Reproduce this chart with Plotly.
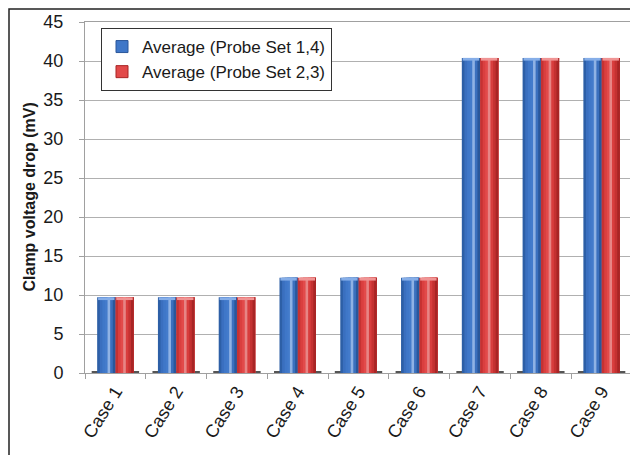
import plotly.graph_objects as go

categories = ["Case 1", "Case 2", "Case 3", "Case 4", "Case 5", "Case 6", "Case 7", "Case 8", "Case 9"]
probe_14 = [9.7, 9.7, 9.7, 12.2, 12.2, 12.2, 40.4, 40.4, 40.4]
probe_23 = [9.7, 9.7, 9.7, 12.2, 12.2, 12.2, 40.4, 40.4, 40.4]
series_names = ["Average (Probe Set 1,4)", "Average (Probe Set 2,3)"]
y_ticks = [0, 5, 10, 15, 20, 25, 30, 35, 40, 45]

# cylinder-like shading strips (left -> right)
blue_strips = ["#2d5fa6", "#3a6fbf", "#3f77c8", "#437bcb", "#8fb2e4", "#3b70be", "#2a579a"]
red_strips = ["#c53232", "#da3f3f", "#e24a4a", "#e78585", "#d83d3d", "#c43131", "#a82525"]
cap_colors = ["#86aee8", "#f09494"]

bar_w = 0.30  # fraction of category width per bar
cap_h = 0.35

fig = go.Figure()

# floor shadow under each group
fig.add_trace(go.Bar(
    x=categories, y=[0.22] * len(categories), width=0.78, offset=-0.39,
    marker=dict(color="#555555", line=dict(width=0)), showlegend=False, hoverinfo="skip",
))

for si, (vals, strips) in enumerate([(probe_14, blue_strips), (probe_23, red_strips)]):
    n = len(strips)
    start = -bar_w if si == 0 else 0.0
    sw = bar_w / n
    for k, col in enumerate(strips):
        fig.add_trace(go.Bar(
            x=categories, y=vals,
            width=bar_w - k * sw, offset=start + k * sw,
            marker=dict(color=col, line=dict(width=0)),
            name=series_names[si], showlegend=False,
            hoverinfo="skip" if k != 2 else None,
        ))
    # lighter top cap
    fig.add_trace(go.Bar(
        x=categories, y=[cap_h] * len(vals), base=[v - cap_h for v in vals],
        width=bar_w * 0.9, offset=start + bar_w * 0.05,
        marker=dict(color=cap_colors[si], line=dict(width=0)),
        showlegend=False, hoverinfo="skip",
    ))
    # legend-only proxy
    fig.add_trace(go.Bar(
        x=categories, y=[None] * len(categories),
        marker=dict(color=strips[2], line=dict(color=strips[-1], width=1)),
        name=series_names[si], showlegend=True,
    ))

# the page body adds an 8px offset; size the figure to the visible area
OFF = 8
W, H = 638 - OFF, 455 - OFF
ml, mr, mt = 85 - OFF, 6, 22 - OFF
pw, ph = 547, 351
mb = H - mt - ph

fig.update_layout(
    width=W, height=H,
    margin=dict(l=ml, r=mr, t=mt, b=mb),
    barmode="overlay",
    paper_bgcolor="white", plot_bgcolor="white",
    font=dict(family="Liberation Sans, Arial, sans-serif", color="#1a1a1a"),
    legend=dict(
        x=(101 - 85) / pw, y=1 - (28 - 22) / ph, xanchor="left", yanchor="top",
        bgcolor="white", bordercolor="#333333", borderwidth=1,
        font=dict(size=17, color="#1a1a1a"),
        traceorder="normal", itemwidth=30, tracegroupgap=0,
    ),
    xaxis=dict(
        type="category", categoryorder="array", categoryarray=categories,
        tickangle=-58, tickfont=dict(size=18, color="#1a1a1a"),
        showline=True, linecolor="#a0a0a0", linewidth=1, mirror=True,
        ticks="outside", ticklen=5, tickcolor="#a0a0a0", tickson="boundaries",
        showgrid=False, range=[-0.5, 8.5], automargin=False,
    ),
    yaxis=dict(
        range=[0, 45], tickvals=y_ticks, ticktext=[str(t) for t in y_ticks],
        tickfont=dict(size=18, color="#1a1a1a"),
        showgrid=True, gridcolor="#b0b0b0", gridwidth=1,
        showline=True, linecolor="#a0a0a0", linewidth=1, mirror=True,
        ticks="outside", ticklen=5, tickcolor="#a0a0a0",
        ticklabelstandoff=12, zeroline=False, automargin=False,
    ),
    annotations=[dict(
        text="<b>Clamp voltage drop (mV)</b>", textangle=-90,
        xref="paper", yref="paper", x=(29 - 85) / pw, y=0.5,
        xanchor="center", yanchor="middle", showarrow=False,
        font=dict(size=16, color="#1a1a1a"),
    )],
    shapes=[dict(
        type="rect", xref="paper", yref="paper",
        x0=(1 - ml) / pw, x1=1.05, y0=-0.3, y1=1 + (mt - 1) / ph,
        line=dict(color="#222222", width=1.5), fillcolor="rgba(0,0,0,0)", layer="below",
    )],
)

fig.write_html("out.html")
